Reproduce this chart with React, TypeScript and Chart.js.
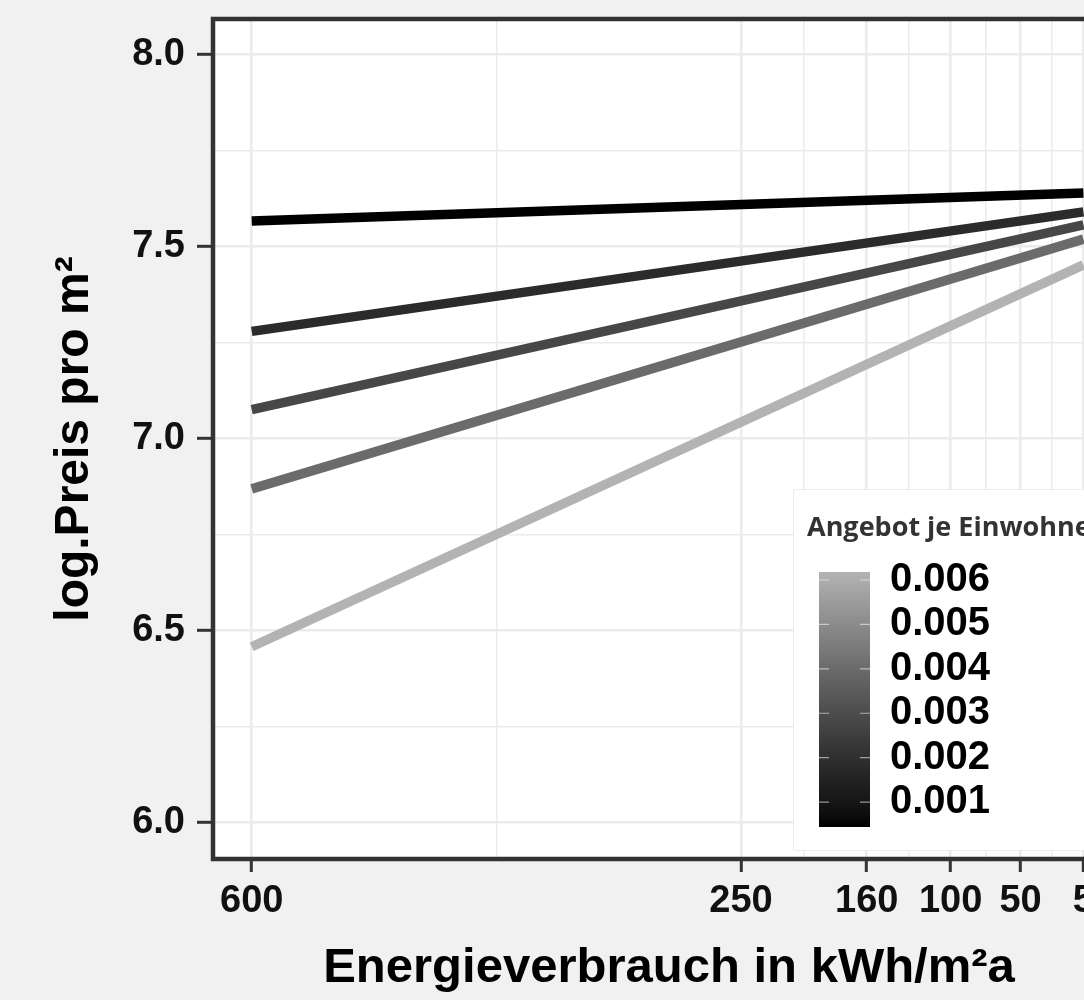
import React, { useEffect, useRef } from 'react';
import { Chart, registerables } from 'chart.js';

Chart.register(...registerables);

// ---------- data ----------
const energieX = [600, 5];
const preisSerie1 = [7.566, 7.639];
const preisSerie2 = [7.279, 7.59];
const preisSerie3 = [7.075, 7.556];
const preisSerie4 = [6.869, 7.519];
const preisSerie5 = [6.458, 7.452];
const serienNamen = ['Angebot sehr niedrig', 'Angebot niedrig', 'Angebot mittel', 'Angebot hoch', 'Angebot sehr hoch'];
const serienFarben = ['#000000', '#2b2b2b', '#474747', '#6b6b6b', '#b3b3b3'];

const xMajorTicks = [600, 250, 160, 100, 50, 5];
const xMinorTicks = [425, 205, 130, 75, 27.5];
const yMajorTicks = [6.0, 6.5, 7.0, 7.5, 8.0];
const yMinorTicks = [6.25, 6.75, 7.25, 7.75];

const legendTicks = [0.001, 0.002, 0.003, 0.004, 0.005, 0.006];
const legendLabels = ['0.001', '0.002', '0.003', '0.004', '0.005', '0.006'];
const legendRange = [0.00044, 0.00618];

const xTitle = 'Energieverbrauch in kWh/m²a';
const yTitle = 'log.Preis pro m²';
const legendTitle = 'Angebot je Einwohner';

// ---------- helpers ----------
const isIn = (arr: number[], v: number) => arr.some((a) => Math.abs(a - v) < 1e-6);

function grayAt(t: number) {
  // Lab-linear interpolation black -> grey70
  const L = 72.9 * t;
  const Y = L > 8 ? Math.pow((L + 16) / 116, 3) : L / 903.3;
  const s = Y <= 0.0031308 ? 12.92 * Y : 1.055 * Math.pow(Y, 1 / 2.4) - 0.055;
  const c = Math.round(Math.max(0, Math.min(1, s)) * 255);
  return `rgb(${c},${c},${c})`;
}

const FONT = '"Liberation Sans", Arial, sans-serif';

const bgPlugin = {
  id: 'panelBg',
  beforeDraw(chart: any) {
    const { ctx, chartArea } = chart;
    ctx.save();
    ctx.fillStyle = '#f1f1f1';
    ctx.fillRect(0, 0, chart.width, chart.height);
    ctx.fillStyle = '#ffffff';
    ctx.fillRect(chartArea.left, chartArea.top, chartArea.right - chartArea.left, chartArea.bottom - chartArea.top);
    ctx.restore();
  },
  afterDatasetsDraw(chart: any) {
    const { ctx, chartArea } = chart;
    ctx.save();
    ctx.strokeStyle = '#333333';
    ctx.lineWidth = 4.5;
    ctx.strokeRect(chartArea.left, chartArea.top, chartArea.right - chartArea.left, chartArea.bottom - chartArea.top);
    ctx.restore();
  },
};

const legendPlugin = {
  id: 'colorbarLegend',
  afterDraw(chart: any) {
    const ctx = chart.ctx;
    ctx.save();
    const boxX = 793, boxY = 489, boxW = 330, boxH = 361;
    ctx.fillStyle = '#ffffff';
    ctx.fillRect(boxX, boxY, boxW, boxH);
    ctx.strokeStyle = '#ececec';
    ctx.lineWidth = 1;
    ctx.strokeRect(boxX + 0.5, boxY + 0.5, boxW, boxH);

    ctx.fillStyle = '#333333';
    ctx.font = 'bold 27px "Open Sans", sans-serif';
    ctx.textAlign = 'left';
    ctx.textBaseline = 'alphabetic';
    ctx.fillText(legendTitle, 807, 536);

    const bx = 819, bw = 51, bt = 572, bb = 827;
    const grad = ctx.createLinearGradient(0, bb, 0, bt);
    for (let i = 0; i <= 20; i++) grad.addColorStop(i / 20, grayAt(i / 20));
    ctx.fillStyle = grad;
    ctx.fillRect(bx, bt, bw, bb - bt);

    const [lo, hi] = legendRange;
    legendTicks.forEach((v, i) => {
      const y = bb - ((v - lo) / (hi - lo)) * (bb - bt);
      ctx.strokeStyle = 'rgba(255,255,255,0.55)';
      ctx.lineWidth = 1.2;
      ctx.beginPath();
      ctx.moveTo(bx, y);
      ctx.lineTo(bx + 10, y);
      ctx.moveTo(bx + bw - 10, y);
      ctx.lineTo(bx + bw, y);
      ctx.stroke();
      ctx.fillStyle = '#000000';
      ctx.font = `bold 40px ${FONT}`;
      ctx.textBaseline = 'middle';
      ctx.fillText(legendLabels[i], 890, y);
    });
    ctx.restore();
  },
};

const serien = [preisSerie1, preisSerie2, preisSerie3, preisSerie4, preisSerie5];

const zeroPad = (s: any) => {
  s.paddingTop = 0;
  s.paddingBottom = 0;
  s.paddingLeft = 0;
  s.paddingRight = 0;
};

export default function App() {
  const ref = useRef<HTMLCanvasElement>(null);

  useEffect(() => {
    if (!ref.current) return;
    const chart = new Chart(ref.current, {
      type: 'line',
      data: {
        datasets: serien.map((s, i) => ({
          label: serienNamen[i],
          data: energieX.map((x, j) => ({ x, y: s[j] })),
          borderColor: serienFarben[i],
          backgroundColor: serienFarben[i],
          borderWidth: 9.5,
          pointRadius: 0,
          tension: 0,
          fill: false,
        })),
      },
      options: {
        animation: false,
        responsive: false,
        devicePixelRatio: 1,
        layout: { padding: { top: 19, right: 15, left: 0, bottom: 0 } },
        plugins: { legend: { display: false }, tooltip: { enabled: false } },
        scales: {
          x: {
            type: 'linear',
            reverse: true,
            bounds: 'data',
            min: -24.75,
            max: 627.7,
            afterBuildTicks: (s: any) => {
              s.ticks = [...xMajorTicks, ...xMinorTicks].sort((a, b) => b - a).map((v) => ({ value: v }));
            },
            afterFit: (s: any) => {
              s.height = 141;
              zeroPad(s);
            },
            border: { display: false },
            grid: {
              color: '#ebebeb',
              lineWidth: (c: any) => (c.tick && isIn(xMajorTicks, c.tick.value) ? 2.6 : 1.5),
              tickColor: (c: any) => (c.tick && isIn(xMajorTicks, c.tick.value) ? '#333333' : 'rgba(0,0,0,0)'),
              tickWidth: 3,
              tickLength: 13,
              drawTicks: true,
            },
            ticks: {
              autoSkip: false,
              maxRotation: 0,
              minRotation: 0,
              padding: 7,
              color: '#111111',
              font: { family: FONT, size: 38, weight: 'bold' },
              callback: (v: any) => (isIn(xMajorTicks, Number(v)) ? String(v) : ''),
            },
            title: {
              display: true,
              text: xTitle,
              color: '#000000',
              font: { family: FONT, size: 49, weight: 'bold' },
              padding: { top: 0, bottom: 2 },
            },
          },
          y: {
            type: 'linear',
            bounds: 'data',
            min: 5.9055,
            max: 8.092,
            afterBuildTicks: (s: any) => {
              s.ticks = [...yMajorTicks, ...yMinorTicks].sort((a, b) => a - b).map((v) => ({ value: v }));
            },
            afterFit: (s: any) => {
              s.width = 213;
              zeroPad(s);
            },
            border: { display: false },
            grid: {
              color: '#ebebeb',
              lineWidth: (c: any) => (c.tick && isIn(yMajorTicks, c.tick.value) ? 2.6 : 1.5),
              tickColor: (c: any) => (c.tick && isIn(yMajorTicks, c.tick.value) ? '#333333' : 'rgba(0,0,0,0)'),
              tickWidth: 3,
              tickLength: 16,
              drawTicks: true,
            },
            ticks: {
              autoSkip: false,
              padding: 12,
              color: '#111111',
              font: { family: FONT, size: 38, weight: 'bold' },
              callback: (v: any) => (isIn(yMajorTicks, Number(v)) ? Number(v).toFixed(1) : ''),
            },
            title: {
              display: true,
              text: yTitle,
              color: '#000000',
              font: { family: FONT, size: 48, weight: 'bold' },
              padding: { top: 46, bottom: 0 },
            },
          },
        },
      },
      plugins: [bgPlugin, legendPlugin],
    } as any);
    return () => chart.destroy();
  }, []);

  return (
    <div
      style={{
        position: 'fixed',
        left: 0,
        top: 0,
        width: 1084,
        height: 1000,
        overflow: 'hidden',
        background: '#f1f1f1',
      }}
    >
      <canvas ref={ref} width={1140} height={1000} style={{ display: 'block', width: 1140, height: 1000 }} />
    </div>
  );
}
